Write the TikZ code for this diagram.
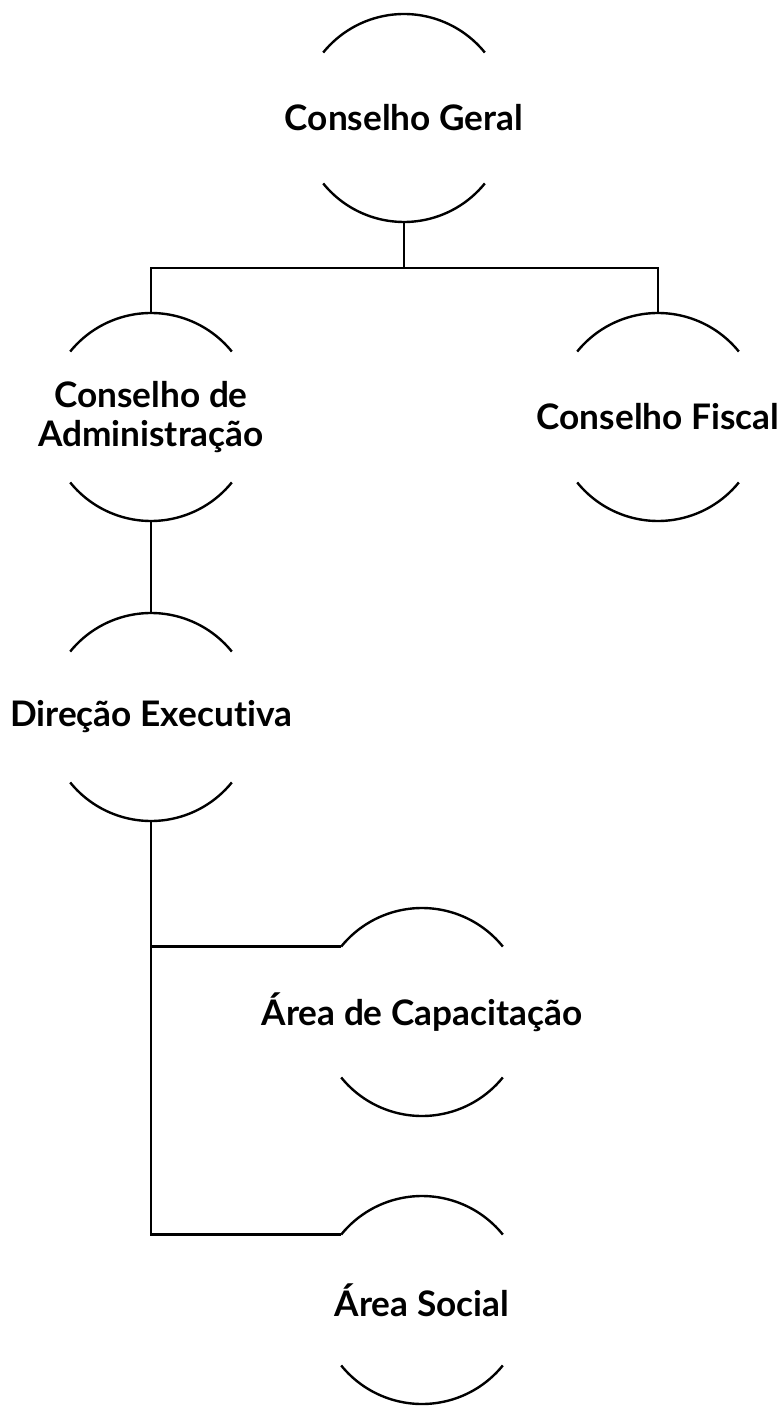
\documentclass[tikz,border=0pt]{standalone}
\usepackage{fontspec}
\setmainfont{Lato}[Ligatures=NoCommon]
\usepackage{tikz}

\begin{document}
\begin{tikzpicture}[
        x = 0.5pt, y = 0.5pt,
        unit/.style = {
            circle,
            minimum size = 104pt,
            inner sep = 0pt,
            outer sep = 0pt},
        caption/.style = {
            align = center,
            font = \bfseries\fontsize{17.6}{19.5}\selectfont},
        ring/.style = {line width = 1.2pt},
        link/.style = {line width = 1.3pt}
    ]
        \useasboundingbox (0,0) rectangle (783,-1416);

        \node[unit, label={[caption]center:Conselho Geral}] (cg) at (404,-118) {};
        \node[unit, label={[caption]center:Conselho de\\Administração}] (ca) at (151,-417) {};
        \node[unit, label={[caption]center:Conselho Fiscal}] (cf) at (658,-417) {};
        \node[unit, label={[caption]center:Direção Executiva}] (de) at (151,-717) {};
        \node[unit, label={[caption]center:Área de Capacitação}] (ac) at (422,-1012) {};
        \node[unit, label={[caption]center:Área Social}] (as) at (422,-1300) {};

        % only the top and bottom of each circle
        \foreach \n in {cg, ca, cf, de, ac, as} {
            \draw[ring] (\n.39) arc[start angle=39, end angle=141, radius=52pt]
                        (\n.219) arc[start angle=219, end angle=321, radius=52pt];
        }

        \coordinate (bus) at (404,-268);
        \draw[link] (cg.south) -- (bus);
        \draw[link] (ca.north) |- (bus) -| (cf.north);
        \draw[link] (ca.south) -- (de.north);
        \draw[link] (de.south) |- (ac.141);
        \draw[link] (de.south) |- (as.141);
    \end{tikzpicture}
\end{document}
